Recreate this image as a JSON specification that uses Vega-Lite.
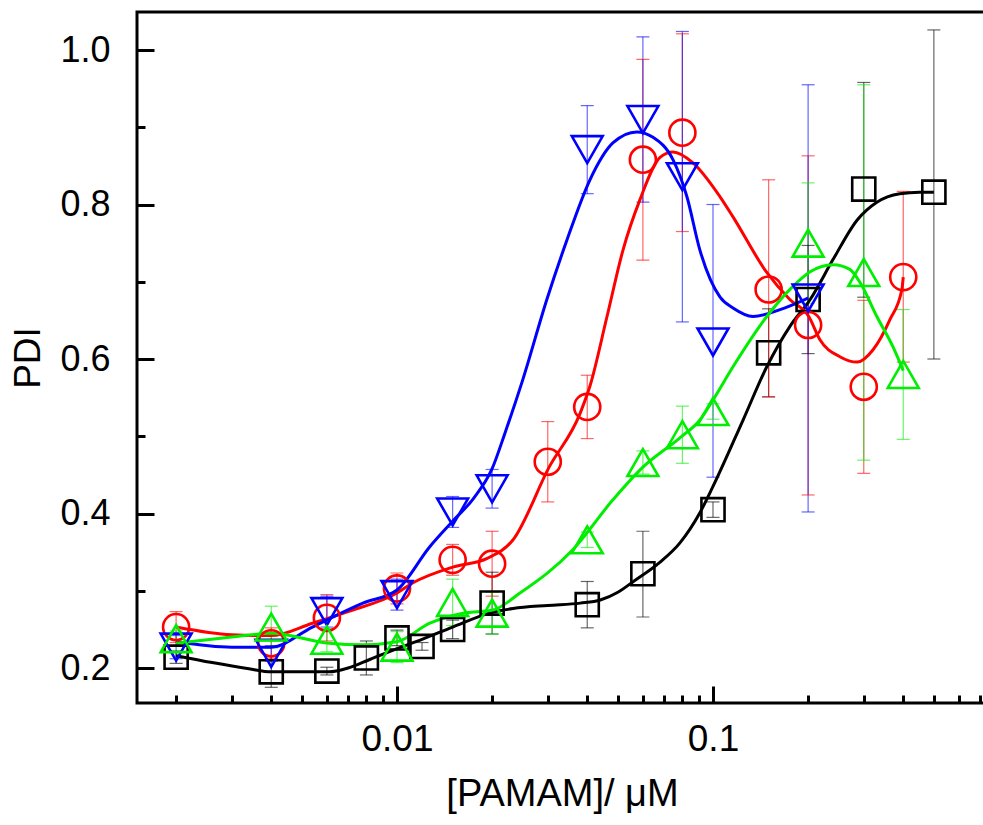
{
  "$schema": "https://vega.github.io/schema/vega-lite/v6.json",
  "width": 850,
  "height": 691,
  "autosize": {"type": "none"},
  "padding": {"left": 137, "top": 12, "right": 0, "bottom": 122},
  "background": "white",
  "config": {
    "view": {"stroke": "black", "strokeWidth": 3},
    "font": "Liberation Sans",
    "axis": {
      "grid": false,
      "domain": false,
      "labelFont": "Liberation Sans",
      "titleFont": "Liberation Sans",
      "labelColor": "black",
      "titleColor": "black",
      "titleFontWeight": "normal",
      "tickColor": "black",
      "tickWidth": 3
    }
  },
  "datasets": {
    "pts": [
      {"s": "A", "x": 0.002, "y": 0.214, "lo": 0.206, "hi": 0.222},
      {"s": "A", "x": 0.004, "y": 0.195, "lo": 0.175, "hi": 0.215},
      {"s": "A", "x": 0.006, "y": 0.196, "lo": 0.191, "hi": 0.201},
      {"s": "A", "x": 0.008, "y": 0.213, "lo": 0.191, "hi": 0.235},
      {"s": "A", "x": 0.01, "y": 0.239, "lo": 0.229, "hi": 0.249},
      {"s": "A", "x": 0.012, "y": 0.228, "lo": 0.223, "hi": 0.233},
      {"s": "A", "x": 0.015, "y": 0.25, "lo": 0.238, "hi": 0.262},
      {"s": "A", "x": 0.02, "y": 0.284, "lo": 0.244, "hi": 0.324},
      {"s": "A", "x": 0.04, "y": 0.282, "lo": 0.252, "hi": 0.312},
      {"s": "A", "x": 0.06, "y": 0.322, "lo": 0.266, "hi": 0.377},
      {"s": "A", "x": 0.1, "y": 0.405, "lo": 0.395, "hi": 0.415},
      {"s": "A", "x": 0.15, "y": 0.608, "lo": 0.551, "hi": 0.665},
      {"s": "A", "x": 0.2, "y": 0.677, "lo": 0.607, "hi": 0.747},
      {"s": "A", "x": 0.3, "y": 0.82, "lo": 0.68, "hi": 0.958},
      {"s": "A", "x": 0.5, "y": 0.816, "lo": 0.6, "hi": 1.026},
      {"s": "B", "x": 0.002, "y": 0.253, "lo": 0.233, "hi": 0.273},
      {"s": "B", "x": 0.004, "y": 0.232, "lo": 0.212, "hi": 0.252},
      {"s": "B", "x": 0.006, "y": 0.265, "lo": 0.235, "hi": 0.295},
      {"s": "B", "x": 0.01, "y": 0.303, "lo": 0.283, "hi": 0.323},
      {"s": "B", "x": 0.015, "y": 0.34, "lo": 0.32, "hi": 0.36},
      {"s": "B", "x": 0.02, "y": 0.335, "lo": 0.293, "hi": 0.377},
      {"s": "B", "x": 0.03, "y": 0.467, "lo": 0.415, "hi": 0.519},
      {"s": "B", "x": 0.04, "y": 0.538, "lo": 0.497, "hi": 0.579},
      {"s": "B", "x": 0.06, "y": 0.858, "lo": 0.728, "hi": 0.988},
      {"s": "B", "x": 0.08, "y": 0.893, "lo": 0.765, "hi": 1.021},
      {"s": "B", "x": 0.15, "y": 0.69, "lo": 0.551, "hi": 0.832},
      {"s": "B", "x": 0.2, "y": 0.644, "lo": 0.424, "hi": 0.863},
      {"s": "B", "x": 0.3, "y": 0.564, "lo": 0.452, "hi": 0.676},
      {"s": "B", "x": 0.4, "y": 0.706, "lo": 0.596, "hi": 0.817},
      {"s": "C", "x": 0.002, "y": 0.227, "lo": 0.212, "hi": 0.242},
      {"s": "C", "x": 0.004, "y": 0.219, "lo": 0.209, "hi": 0.229},
      {"s": "C", "x": 0.006, "y": 0.273, "lo": 0.253, "hi": 0.293},
      {"s": "C", "x": 0.01, "y": 0.295, "lo": 0.275, "hi": 0.315},
      {"s": "C", "x": 0.015, "y": 0.402, "lo": 0.382, "hi": 0.422},
      {"s": "C", "x": 0.02, "y": 0.432, "lo": 0.407, "hi": 0.457},
      {"s": "C", "x": 0.04, "y": 0.871, "lo": 0.814, "hi": 0.928},
      {"s": "C", "x": 0.06, "y": 0.91, "lo": 0.803, "hi": 1.017},
      {"s": "C", "x": 0.08, "y": 0.836, "lo": 0.648, "hi": 1.024},
      {"s": "C", "x": 0.1, "y": 0.622, "lo": 0.447, "hi": 0.8},
      {"s": "C", "x": 0.2, "y": 0.679, "lo": 0.402, "hi": 0.955},
      {"s": "D", "x": 0.002, "y": 0.238, "lo": 0.228, "hi": 0.248},
      {"s": "D", "x": 0.004, "y": 0.253, "lo": 0.226, "hi": 0.28},
      {"s": "D", "x": 0.006, "y": 0.236, "lo": 0.221, "hi": 0.251},
      {"s": "D", "x": 0.01, "y": 0.227, "lo": 0.207, "hi": 0.247},
      {"s": "D", "x": 0.015, "y": 0.285, "lo": 0.255, "hi": 0.315},
      {"s": "D", "x": 0.02, "y": 0.271, "lo": 0.244, "hi": 0.298},
      {"s": "D", "x": 0.04, "y": 0.366, "lo": 0.356, "hi": 0.376},
      {"s": "D", "x": 0.06, "y": 0.466, "lo": 0.451, "hi": 0.481},
      {"s": "D", "x": 0.08, "y": 0.502, "lo": 0.465, "hi": 0.539},
      {"s": "D", "x": 0.1, "y": 0.532, "lo": 0.522, "hi": 0.542},
      {"s": "D", "x": 0.2, "y": 0.75, "lo": 0.672, "hi": 0.828},
      {"s": "D", "x": 0.3, "y": 0.712, "lo": 0.469, "hi": 0.955},
      {"s": "D", "x": 0.4, "y": 0.58, "lo": 0.496, "hi": 0.664}
    ],
    "curves": [
      {"s": "A", "x": 0.002, "y": 0.216}, {"s": "A", "x": 0.0026, "y": 0.207}, {"s": "A", "x": 0.0034, "y": 0.199},
      {"s": "A", "x": 0.004, "y": 0.195}, {"s": "A", "x": 0.0061, "y": 0.195}, {"s": "A", "x": 0.007, "y": 0.2},
      {"s": "A", "x": 0.0082, "y": 0.211}, {"s": "A", "x": 0.01, "y": 0.225}, {"s": "A", "x": 0.012, "y": 0.237},
      {"s": "A", "x": 0.015, "y": 0.253}, {"s": "A", "x": 0.02, "y": 0.272}, {"s": "A", "x": 0.0233, "y": 0.277},
      {"s": "A", "x": 0.03, "y": 0.281}, {"s": "A", "x": 0.038, "y": 0.284}, {"s": "A", "x": 0.044, "y": 0.288},
      {"s": "A", "x": 0.05, "y": 0.298}, {"s": "A", "x": 0.056, "y": 0.312}, {"s": "A", "x": 0.068, "y": 0.337},
      {"s": "A", "x": 0.0786, "y": 0.362}, {"s": "A", "x": 0.0909, "y": 0.401}, {"s": "A", "x": 0.1, "y": 0.435},
      {"s": "A", "x": 0.1245, "y": 0.521}, {"s": "A", "x": 0.148, "y": 0.59}, {"s": "A", "x": 0.175, "y": 0.642},
      {"s": "A", "x": 0.203, "y": 0.677}, {"s": "A", "x": 0.24, "y": 0.729}, {"s": "A", "x": 0.286, "y": 0.78},
      {"s": "A", "x": 0.33, "y": 0.803}, {"s": "A", "x": 0.39, "y": 0.814}, {"s": "A", "x": 0.45, "y": 0.816},
      {"s": "A", "x": 0.5, "y": 0.816},
      {"s": "B", "x": 0.002, "y": 0.253}, {"s": "B", "x": 0.003, "y": 0.243}, {"s": "B", "x": 0.004, "y": 0.242},
      {"s": "B", "x": 0.0054, "y": 0.258}, {"s": "B", "x": 0.007, "y": 0.273}, {"s": "B", "x": 0.01, "y": 0.297},
      {"s": "B", "x": 0.0112, "y": 0.31}, {"s": "B", "x": 0.0151, "y": 0.331}, {"s": "B", "x": 0.0193, "y": 0.342},
      {"s": "B", "x": 0.0233, "y": 0.366}, {"s": "B", "x": 0.0303, "y": 0.46}, {"s": "B", "x": 0.038, "y": 0.53},
      {"s": "B", "x": 0.0408, "y": 0.565}, {"s": "B", "x": 0.0462, "y": 0.655}, {"s": "B", "x": 0.0519, "y": 0.741},
      {"s": "B", "x": 0.0587, "y": 0.806}, {"s": "B", "x": 0.068, "y": 0.861}, {"s": "B", "x": 0.0747, "y": 0.868},
      {"s": "B", "x": 0.0864, "y": 0.854}, {"s": "B", "x": 0.1053, "y": 0.81}, {"s": "B", "x": 0.1157, "y": 0.784},
      {"s": "B", "x": 0.148, "y": 0.712}, {"s": "B", "x": 0.175, "y": 0.677}, {"s": "B", "x": 0.201, "y": 0.655},
      {"s": "B", "x": 0.218, "y": 0.625}, {"s": "B", "x": 0.252, "y": 0.603}, {"s": "B", "x": 0.286, "y": 0.596},
      {"s": "B", "x": 0.321, "y": 0.612}, {"s": "B", "x": 0.363, "y": 0.651}, {"s": "B", "x": 0.396, "y": 0.69},
      {"s": "B", "x": 0.4, "y": 0.706},
      {"s": "C", "x": 0.002, "y": 0.234}, {"s": "C", "x": 0.003, "y": 0.227}, {"s": "C", "x": 0.004, "y": 0.227},
      {"s": "C", "x": 0.0054, "y": 0.253}, {"s": "C", "x": 0.0078, "y": 0.284}, {"s": "C", "x": 0.01, "y": 0.301},
      {"s": "C", "x": 0.0127, "y": 0.357}, {"s": "C", "x": 0.015, "y": 0.39}, {"s": "C", "x": 0.0175, "y": 0.42},
      {"s": "C", "x": 0.02, "y": 0.458}, {"s": "C", "x": 0.022, "y": 0.505}, {"s": "C", "x": 0.025, "y": 0.573},
      {"s": "C", "x": 0.0298, "y": 0.677}, {"s": "C", "x": 0.0345, "y": 0.754}, {"s": "C", "x": 0.0408, "y": 0.832},
      {"s": "C", "x": 0.0483, "y": 0.88}, {"s": "C", "x": 0.0574, "y": 0.894}, {"s": "C", "x": 0.0646, "y": 0.887},
      {"s": "C", "x": 0.0747, "y": 0.858}, {"s": "C", "x": 0.0827, "y": 0.81}, {"s": "C", "x": 0.0909, "y": 0.741},
      {"s": "C", "x": 0.1053, "y": 0.68}, {"s": "C", "x": 0.1157, "y": 0.666}, {"s": "C", "x": 0.134, "y": 0.655},
      {"s": "C", "x": 0.163, "y": 0.664}, {"s": "C", "x": 0.188, "y": 0.674}, {"s": "C", "x": 0.2, "y": 0.679},
      {"s": "D", "x": 0.002, "y": 0.232}, {"s": "D", "x": 0.003, "y": 0.24}, {"s": "D", "x": 0.004, "y": 0.245},
      {"s": "D", "x": 0.0061, "y": 0.232}, {"s": "D", "x": 0.0078, "y": 0.23}, {"s": "D", "x": 0.01, "y": 0.234},
      {"s": "D", "x": 0.0127, "y": 0.258}, {"s": "D", "x": 0.0162, "y": 0.271}, {"s": "D", "x": 0.0201, "y": 0.275},
      {"s": "D", "x": 0.0245, "y": 0.297}, {"s": "D", "x": 0.036, "y": 0.353}, {"s": "D", "x": 0.0483, "y": 0.418},
      {"s": "D", "x": 0.06, "y": 0.46}, {"s": "D", "x": 0.0786, "y": 0.498}, {"s": "D", "x": 0.0909, "y": 0.521},
      {"s": "D", "x": 0.1, "y": 0.547}, {"s": "D", "x": 0.1157, "y": 0.59}, {"s": "D", "x": 0.148, "y": 0.655},
      {"s": "D", "x": 0.179, "y": 0.694}, {"s": "D", "x": 0.203, "y": 0.713}, {"s": "D", "x": 0.24, "y": 0.722},
      {"s": "D", "x": 0.271, "y": 0.716}, {"s": "D", "x": 0.292, "y": 0.699}, {"s": "D", "x": 0.33, "y": 0.655},
      {"s": "D", "x": 0.371, "y": 0.616}, {"s": "D", "x": 0.4, "y": 0.585}
    ]
  },
  "resolve": {"axis": {"x": "independent", "y": "independent"}},
  "layer": [
    {
      "data": {"name": "pts"},
      "mark": {"type": "rule", "strokeWidth": 1.2, "opacity": 0.6},
      "encoding": {
        "x": {"field": "x", "type": "quantitative",
          "scale": {"type": "log", "domain": [0.001504, 0.7364], "nice": false},
          "axis": {"orient": "bottom", "values": [0.01, 0.1], "format": "~g", "ticks": false,
            "labelFontSize": 37, "labelPadding": 18, "title": "[PAMAM]/ μM", "titleFontSize": 38, "titlePadding": 18}},
        "y": {"field": "lo", "type": "quantitative",
          "scale": {"domain": [0.1547, 1.0492], "nice": false, "zero": false},
          "axis": {"orient": "left", "values": [0.2, 0.4, 0.6, 0.8, 1.0], "format": ".1f", "ticks": false,
            "labelFontSize": 36, "labelPadding": 27, "title": "PDI", "titleFontSize": 37, "titlePadding": 12}},
        "y2": {"field": "hi"},
        "color": {"field": "s", "type": "nominal",
          "scale": {"domain": ["A", "B", "C", "D"], "range": ["#000000", "#ff0000", "#0000ff", "#00ee00"]}, "legend": null}
      }
    },
    {
      "data": {"name": "pts"},
      "mark": {"type": "tick", "orient": "horizontal", "size": 13, "thickness": 1.2, "opacity": 0.6},
      "encoding": {
        "x": {"field": "x", "type": "quantitative", "scale": {"type": "log", "domain": [0.001504, 0.7364], "nice": false}, "axis": null},
        "y": {"field": "lo", "type": "quantitative", "scale": {"domain": [0.1547, 1.0492], "nice": false, "zero": false}, "axis": null},
        "color": {"field": "s", "type": "nominal", "legend": null}
      }
    },
    {
      "data": {"name": "pts"},
      "mark": {"type": "tick", "orient": "horizontal", "size": 13, "thickness": 1.2, "opacity": 0.6},
      "encoding": {
        "x": {"field": "x", "type": "quantitative", "scale": {"type": "log", "domain": [0.001504, 0.7364], "nice": false},
          "axis": {"orient": "bottom", "values": [0.01, 0.1], "labels": false, "title": null, "tickSize": -17}},
        "y": {"field": "hi", "type": "quantitative", "scale": {"domain": [0.1547, 1.0492], "nice": false, "zero": false},
          "axis": {"orient": "left", "values": [0.2, 0.4, 0.6, 0.8, 1.0], "labels": false, "title": null, "tickSize": -17}},
        "color": {"field": "s", "type": "nominal", "legend": null}
      }
    },
    {
      "data": {"name": "curves"},
      "mark": {"type": "line", "interpolate": "monotone", "strokeWidth": 3},
      "encoding": {
        "x": {"field": "x", "type": "quantitative", "scale": {"type": "log", "domain": [0.001504, 0.7364], "nice": false},
          "axis": {"orient": "bottom", "values": [0.002, 0.003, 0.004, 0.005, 0.006, 0.007, 0.008, 0.009, 0.02, 0.03, 0.04, 0.05, 0.06, 0.07, 0.08, 0.09, 0.2, 0.3, 0.4, 0.5, 0.6, 0.7], "labels": false, "title": null, "tickSize": -8}},
        "y": {"field": "y", "type": "quantitative", "scale": {"domain": [0.1547, 1.0492], "nice": false, "zero": false},
          "axis": {"orient": "left", "values": [0.3, 0.5, 0.7, 0.9], "labels": false, "title": null, "tickSize": -8}},
        "color": {"field": "s", "type": "nominal", "legend": null}
      }
    },
    {
      "data": {"name": "pts"},
      "mark": {"type": "point", "filled": false, "strokeWidth": 2.6, "opacity": 1, "size": 900},
      "encoding": {
        "x": {"field": "x", "type": "quantitative", "scale": {"type": "log", "domain": [0.001504, 0.7364], "nice": false}, "axis": null},
        "y": {"field": "y", "type": "quantitative", "scale": {"domain": [0.1547, 1.0492], "nice": false, "zero": false}, "axis": null},
        "color": {"field": "s", "type": "nominal", "legend": null},
        "shape": {"field": "s", "type": "nominal", "legend": null,
          "scale": {"domain": ["A", "B", "C", "D"],
            "range": ["M-0.77,-0.77H0.77V0.77H-0.77Z",
                      "M0.87,0A0.87,0.87,0,1,1,-0.87,0A0.87,0.87,0,1,1,0.87,0Z",
                      "M0,0.9L-1.03,-0.9H1.03Z",
                      "M0,-0.9L1.03,0.9H-1.03Z"]}}
      }
    }
  ]
}
